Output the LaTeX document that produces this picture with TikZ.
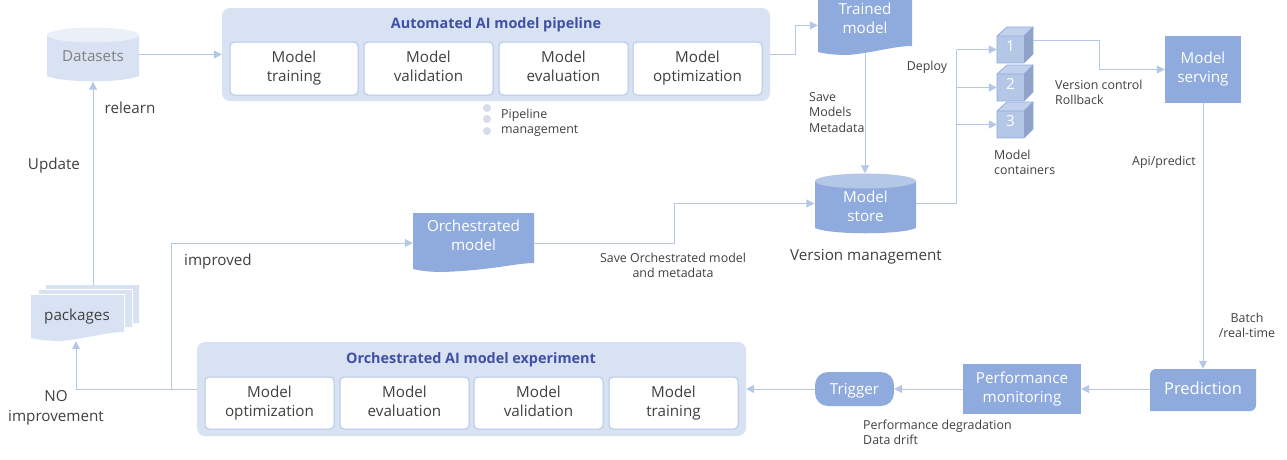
\documentclass[tikz,border=0pt]{standalone}
\usepackage{fontspec}
\setmainfont{Open Sans}
\usetikzlibrary{arrows.meta}

\definecolor{panelblue}{HTML}{D9E2F3}
\definecolor{edgeblue}{HTML}{B4C7E7}
\definecolor{boxblue}{HTML}{8FAADC}
\definecolor{sideblue}{HTML}{8FA3C8}
\definecolor{titleblue}{HTML}{3F51A5}
\definecolor{dotgrey}{HTML}{D6DCE8}
\definecolor{inkgrey}{HTML}{404040}

\tikzset{
    flow/.style={draw=edgeblue, line width=1pt, -{Triangle[length=8pt,width=8pt]}},
    branch/.style={draw=edgeblue, line width=1pt},
    panel/.style={fill=panelblue, rounded corners=8pt, inner sep=0pt},
    body text/.style={font=\fontsize{15.2}{19}\selectfont, execute at end node={\rule[-3.6pt]{0pt}{1pt}}},
    stepbox/.style={body text, draw=edgeblue, fill=white, line width=1pt, rounded corners=4pt, inner sep=0pt, align=center, text=inkgrey},
    paneltitle/.style={font=\fontsize{14.4}{19}\selectfont\bfseries, text=titleblue},
    solid box/.style={body text, fill=boxblue, inner sep=0pt, align=center, text=white},
    open/.style={body text, inner sep=0pt, align=center, text=white},
    big/.style={body text, inner sep=0pt, align=center, text=inkgrey},
    small/.style={inner sep=0pt, align=left, text=inkgrey, font=\fontsize{12.4}{15.3}\selectfont},
}

\newcommand{\docpath}[5]{%
    \fill[#5] (#1,#2) -- (#3,#2) -- (#3,#4-9)
        .. controls (#3-18,#4-9) and (#3-40,#4-2) .. (#1+30,#4)
        .. controls (#1+18,#4) and (#1+8,#4-1) .. (#1,#4-3) -- cycle;}

\newcommand{\drumpath}[6]{%
    \fill[#5] (#1,#2+7) -- (#1,#4-6)
        .. controls (#1+15,#4+1) and (#3-15,#4+1) .. (#3,#4-6)
        -- (#3,#2+7) -- cycle;
    \fill[#6] ({(#1+#3)/2},#2+7) ellipse ({(#3-#1)/2} and 7.5);}

\newcommand{\cubepath}[1]{%
    \fill[edgeblue] (997,#1) -- (1024,#1) -- (1024,#1+27) -- (997,#1+27) -- cycle;
    \fill[edgeblue!80!white] (997,#1) -- (1007,#1-9) -- (1033,#1-9) -- (1024,#1) -- cycle;
    \fill[sideblue] (1024,#1) -- (1033,#1-9) -- (1033,#1+18) -- (1024,#1+27) -- cycle;
    \draw[boxblue, line width=.8pt] (997,#1) -- (1007,#1-9) -- (1033,#1-9) -- (1033,#1+18) -- (1024,#1+27) -- (997,#1+27) -- cycle;
    \draw[boxblue, line width=.8pt] (997,#1) -- (1024,#1) -- (1033,#1-9);}

\begin{document}
\begin{tikzpicture}[x=1pt, y=-1pt]
    \useasboundingbox (0,0) rectangle (1287,459);

    % top pipeline
    \node[panel, minimum width=548pt, minimum height=93pt] (pipeline) at (496,54.5) {};
    \node[paneltitle] (pipelinetitle) at (496,25) {Automated AI model pipeline};
    \node[stepbox, minimum width=128pt, minimum height=53pt] (training) at (294,68.5) {Model\\training};
    \node[stepbox, minimum width=129pt, minimum height=53pt] (validation) at (428.5,68.5) {Model\\validation};
    \node[stepbox, minimum width=129pt, minimum height=53pt] (evaluation) at (563.5,68.5) {Model\\evaluation};
    \node[stepbox, minimum width=129pt, minimum height=53pt] (optimization) at (697.5,68.5) {Model\\optimization};

    \fill[dotgrey] (487,108) circle (4pt);
    \fill[dotgrey] (487,119) circle (4pt);
    \fill[dotgrey] (487,131) circle (4pt);
    \node[small, anchor=west] (pipelinenote) at (501,122.5) {Pipeline\\management};

    % datasets and packages
    \drumpath{47}{28}{139}{82}{panelblue}{panelblue!55!white}
    \node[inner sep=0pt, text=gray, font=\fontsize{15.2}{19}\selectfont, minimum width=92pt, minimum height=54pt] (datasets) at (93,54.5) {\raisebox{-6.5pt}[0pt][0pt]{Datasets}};

    \docpath{46}{285}{139}{332}{panelblue}
    \docpath{38}{289}{133}{337}{white}
    \docpath{39}{290}{132}{336}{panelblue}
    \docpath{30}{294}{125}{342}{white}
    \docpath{31}{295}{124}{341}{panelblue}
    \node[big, minimum width=93pt, minimum height=56pt] (packages) at (77,313) {\raisebox{-9.5pt}[0pt][0pt]{packages}};

    % experiment
    \node[panel, minimum width=549pt, minimum height=94pt] (experiment) at (471.5,389) {};
    \node[paneltitle] (experimenttitle) at (471,360) {Orchestrated AI model experiment};
    \node[stepbox, minimum width=129pt, minimum height=52pt] (optimizationb) at (269.5,403) {Model\\optimization};
    \node[stepbox, minimum width=129pt, minimum height=52pt] (evaluationb) at (404.5,403) {Model\\evaluation};
    \node[stepbox, minimum width=129pt, minimum height=52pt] (validationb) at (538.5,403) {Model\\validation};
    \node[stepbox, minimum width=129pt, minimum height=52pt] (trainingb) at (673.5,403) {Model\\training};

    % documents and store
    \docpath{413}{213}{534}{272}{boxblue}
    \node[inner sep=0pt, minimum width=121pt, minimum height=60pt] (orchestrated) at (473.5,243) {};
    \node[open] (orchestratedtext) at (473.5,237) {Orchestrated\\model};

    \docpath{818}{-5}{912}{55}{boxblue}
    \node[inner sep=0pt, minimum width=94pt, minimum height=55pt] (trained) at (865,25.5) {};
    \node[open] (trainedtext) at (865,20.5) {Trained\\model};

    \drumpath{815}{174}{916}{234}{boxblue}{edgeblue}
    \node[inner sep=0pt, minimum width=101pt, minimum height=60pt] (store) at (865,203.5) {};
    \node[open] (storetext) at (865.5,208) {Model\\store};

    % containers
    \cubepath{36}
    \cubepath{74}
    \cubepath{111}
    \node[open, minimum width=27pt, minimum height=27pt] (boxa) at (1010.5,49.5) {\raisebox{3pt}{1}};
    \node[open, minimum width=27pt, minimum height=27pt] (boxb) at (1010.5,87.5) {\raisebox{3pt}{2}};
    \node[open, minimum width=27pt, minimum height=27pt] (boxc) at (1010.5,124.5) {\raisebox{3pt}{3}};

    % right side
    \node[solid box, minimum width=76pt, minimum height=67pt] (serving) at (1203,69.5) {Model\\serving};
    \fill[boxblue] (1156,369) -- (1256,369) -- (1256,405) arc[start angle=0, end angle=90, radius=6] -- (1150,411) -- (1150,375) arc[start angle=180, end angle=270, radius=6] -- cycle;
    \node[inner sep=0pt, minimum width=106pt, minimum height=40pt, text=white, font=\fontsize{16.5}{19}\selectfont] (prediction) at (1203,389) {\raisebox{1pt}{Prediction}};
    \node[solid box, minimum width=118pt, minimum height=50pt] (monitoring) at (1022,389) {Performance\\monitoring};
    \node[fill=boxblue, rounded corners=13pt, inner sep=0pt, minimum width=79pt, minimum height=34pt, text=white, font=\fontsize{15.2}{19}\selectfont] (trigger) at (854.5,389) {\raisebox{-5pt}[0pt][0pt]{Trigger}};

    % connectors
    \coordinate (expturn) at (171,389);
    \coordinate (noturn) at (76,389);
    \coordinate (pipeturn) at (795,54.5);
    \coordinate (orchturn) at (674,243);
    \coordinate (deployturn) at (956.5,203.5);
    \coordinate (boxaout) at (1033,40);
    \coordinate (servturn) at (1099,40);
    \draw[flow] (datasets.east) -- (pipeline.west);
    \draw[flow] (datasets.south |- packages.north) -- (datasets.south);
    \draw[flow] (pipeline.east) -- (pipeturn) -- (pipeturn |- trained.west) -- (trained.west);
    \draw[flow] (trained.south) -- (store.north);
    \draw[flow] (experiment.west) -- (noturn) -- (noturn |- packages.south);
    \draw[flow] (expturn) -- (expturn |- orchestrated.west) -- (orchestrated.west);
    \draw[flow] (orchestrated.east) -- (orchturn) -- (orchturn |- store.west) -- (store.west);
    \draw[branch] (store.east) -- (deployturn) -- (deployturn |- boxa.west);
    \draw[flow] (deployturn |- boxa.west) -- (boxa.west);
    \draw[flow] (deployturn |- boxb.west) -- (boxb.west);
    \draw[flow] (deployturn |- boxc.west) -- (boxc.west);
    \draw[flow] (boxaout) -- (servturn) -- (servturn |- serving.west) -- (serving.west);
    \draw[flow] (serving.south) -- (prediction.north);
    \draw[flow] (prediction.west) -- (monitoring.east);
    \draw[flow] (monitoring.west) -- (trigger.east);
    \draw[flow] (trigger.west) -- (experiment.east);

    % labels
    \node[big] (relearn) at (130,110) {relearn};
    \node[big] (update) at (54,165.5) {Update};
    \node[big] (improved) at (218,262) {improved};
    \node[big] (noimprove) at (56,408) {NO\\[1pt]improvement};
    \node[big] (versionmgmt) at (866,256.5) {Version management};
    \node[small, align=center] (saveorch) at (673,265.5) {Save Orchestrated model\\and metadata};
    \node[small, anchor=west] (savemodels) at (809,112.5) {Save\\Models\\Metadata};
    \node[small] (deploy) at (927,67) {Deploy};
    \node[small, anchor=west] (containers) at (994,162.5) {Model\\containers};
    \node[small, anchor=west] (version) at (1055,92.5) {Version control\\Rollback};
    \node[small, anchor=west] (api) at (1132,162) {Api/predict};
    \node[small, align=center] (batch) at (1247,325.5) {Batch\\/real-time};
    \node[small, anchor=west] (degradation) at (863,432.5) {Performance degradation\\Data drift};
\end{tikzpicture}
\end{document}
